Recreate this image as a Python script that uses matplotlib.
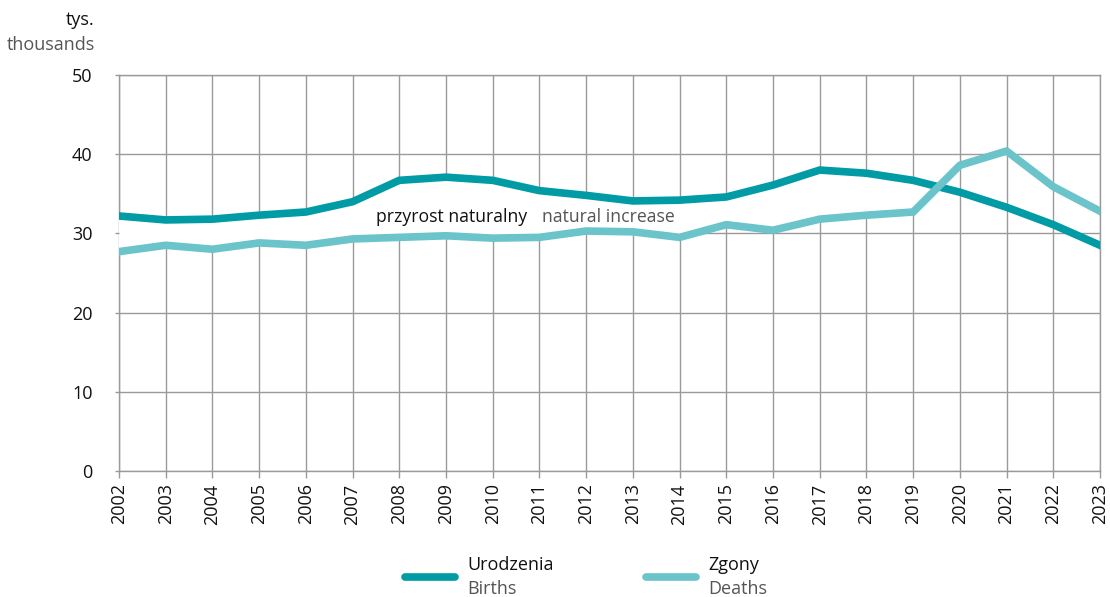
import matplotlib
matplotlib.use("Agg")
import matplotlib.pyplot as plt
import numpy as np
from matplotlib.lines import Line2D

plt.rcParams['font.family'] = ['Open Sans', 'DejaVu Sans']

years = list(range(2002, 2024))
births = [32.2, 31.7, 31.8, 32.3, 32.7, 34.0, 36.7, 37.1, 36.7, 35.4, 34.8,
          34.1, 34.2, 34.6, 36.1, 38.0, 37.6, 36.7, 35.2, 33.3, 31.1, 28.5]
deaths = [27.7, 28.5, 28.0, 28.8, 28.5, 29.3, 29.5, 29.7, 29.4, 29.5, 30.3,
          30.2, 29.5, 31.1, 30.4, 31.8, 32.3, 32.7, 38.6, 40.4, 35.9, 32.8]
y_ticks = [0, 10, 20, 30, 40, 50]

c_births = '#009ba4'
c_deaths = '#6ac4ca'
grid_c = '#9a9a9a'
dark = '#111111'
gray = '#555555'
fs = 13

fig = plt.figure(figsize=(11.10, 5.97), dpi=100)
ax = fig.add_axes([119/1110, 1 - 471/597, (1100 - 119)/1110, (471 - 75)/597])

ax.set_xlim(2002, 2023)
ax.set_ylim(0, 50)

# grid drawn as plain lines at the bottom of the stack
for yr in years:
    ax.axvline(yr, color=grid_c, lw=1.0, zorder=0.2)
for v in y_ticks:
    ax.axhline(v, color=grid_c, lw=1.0, zorder=0.2)

b = np.array(births, dtype=float)
d = np.array(deaths, dtype=float)
# natural increase band: blank out the grid where births exceed deaths
ax.fill_between(years, d, b, where=(b >= d), interpolate=True,
                facecolor='white', edgecolor='none', zorder=1)
ax.plot(years, births, color=c_births, lw=5.5, solid_joinstyle='miter', zorder=2)
ax.plot(years, deaths, color=c_deaths, lw=5.5, solid_joinstyle='miter', zorder=3)

ax.set_xticks(years)
ax.set_xticklabels([str(y) for y in years], rotation=90, fontsize=fs, color=dark)
ax.set_yticks(y_ticks)
ax.set_yticklabels([str(v) for v in y_ticks], fontsize=fs, color=dark)
for s in ax.spines.values():
    s.set_color(grid_c)
    s.set_linewidth(1.0)
    s.set_zorder(0.2)
ax.tick_params(axis='both', color=grid_c, width=1.0, length=5, pad=4)
ax.tick_params(axis='y', length=3, pad=16)

ax.text(2007.5, 32.1, 'przyrost naturalny', fontsize=12.7, color=dark,
        ha='left', va='center', zorder=4)
ax.text(2011.05, 32.1, 'natural increase', fontsize=12.7, color=gray,
        ha='left', va='center', zorder=4)

fig.text(95/1110, 1 - 20/597, 'tys.', fontsize=fs, color=dark, ha='right', va='center')
fig.text(95/1110, 1 - 45/597, 'thousands', fontsize=fs, color=gray, ha='right', va='center')

# legend drawn in figure coordinates
for x0, x1, col, l1, l2 in [(405, 455, c_births, 'Urodzenia', 'Births'),
                            (646, 696, c_deaths, 'Zgony', 'Deaths')]:
    fig.add_artist(Line2D([x0/1110, x1/1110], [1 - 577/597] * 2, color=col,
                          lw=5.5, solid_capstyle='round'))
    fig.text((x1 + 12)/1110, 1 - 565/597, l1, fontsize=fs, color=dark, va='center')
    fig.text((x1 + 12)/1110, 1 - 589/597, l2, fontsize=fs, color=gray, va='center')

fig.savefig('out.png', dpi=100)
